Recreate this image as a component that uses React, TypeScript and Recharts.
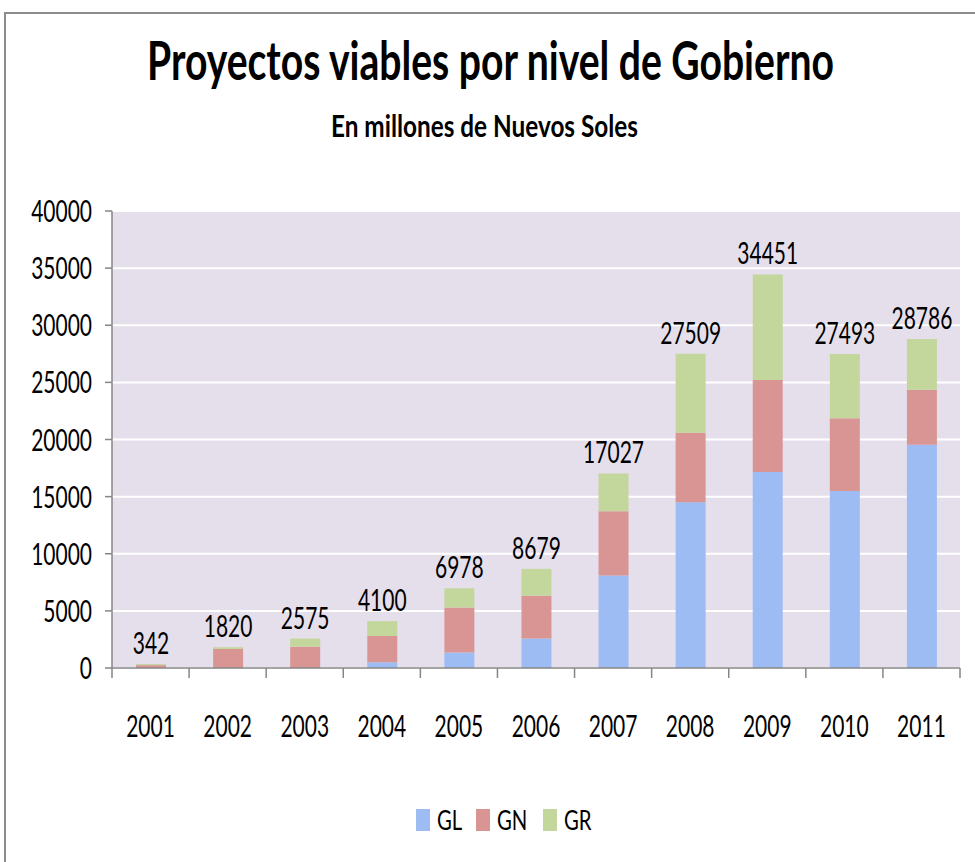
import React from "react"
import {
  BarChart,
  Bar,
  XAxis,
  YAxis,
  CartesianGrid,
  LabelList,
} from "recharts"

// data (millones de Nuevos Soles)
const years = ["2001", "2002", "2003", "2004", "2005", "2006", "2007", "2008", "2009", "2010", "2011"]
const totals = [342, 1820, 2575, 4100, 6978, 8679, 17027, 27509, 34451, 27493, 28786]
const glValues = [0, 0, 0, 500, 1350, 2580, 8090, 14500, 17150, 15500, 19550]
const gnValues = [250, 1670, 1870, 2300, 3950, 3750, 5620, 6100, 8050, 6350, 4800]
const yTicks = [0, 5000, 10000, 15000, 20000, 25000, 30000, 35000, 40000]

const seriesNames = ["GL", "GN", "GR"]
const seriesColors = ["#9dbcf4", "#d99594", "#c3d69b"]

const FONT = "Lato, 'Open Sans', sans-serif"
const SQUEEZE = 0.7 // the original text is a tall condensed face

const chartData = years.map((year, i) => ({
  year,
  GL: glValues[i],
  GN: gnValues[i],
  GR: totals[i] - glValues[i] - gnValues[i],
  total: totals[i],
}))

const NarrowText = ({ x, y, anchor = "middle", children }: any) => (
  <text
    transform={`translate(${x},${y}) scale(${SQUEEZE},1)`}
    textAnchor={anchor}
    fontFamily={FONT}
    fontSize={30}
    fill="#000"
  >
    {children}
  </text>
)

const XTick = (props: any) => {
  const { x, y, payload, index, visibleTicksCount } = props
  const half = payload?.offset || 38.5
  const axisY = y - 10
  const isLast = index === (visibleTicksCount ?? years.length) - 1
  return (
    <g>
      <line x1={x - half} x2={x - half} y1={axisY} y2={axisY + 10} stroke="#868686" strokeWidth={1.5} />
      {isLast && (
        <line x1={x + half} x2={x + half} y1={axisY} y2={axisY + 10} stroke="#868686" strokeWidth={1.5} />
      )}
      <NarrowText x={x} y={axisY + 69}>{payload.value}</NarrowText>
    </g>
  )
}

const YTick = (props: any) => {
  const { x, y, payload } = props
  return (
    <NarrowText x={x} y={y + 11} anchor="end">
      {payload.value}
    </NarrowText>
  )
}

const TotalLabel = (props: any) => {
  const { x, y, width, index } = props
  return (
    <NarrowText x={x + width / 2} y={y - 10}>
      {totals[index]}
    </NarrowText>
  )
}

export default function App() {
  return (
    <div style={{ position: "absolute", left: 0, top: 0, width: 975, height: 862, background: "#fff", overflow: "hidden" }}>
      <div
        style={{
          position: "absolute",
          left: 4,
          top: 12,
          width: 990,
          height: 880,
          borderTop: "2px solid #8c8c8c",
          borderLeft: "2px solid #8c8c8c",
        }}
      />
      <svg width={975} height={170} style={{ position: "absolute", left: 0, top: 0 }}>
        <text
          transform="translate(147,80) scale(1,1.33)"
          textLength={687}
          lengthAdjust="spacingAndGlyphs"
          fontFamily={FONT}
          fontWeight="bold"
          fontSize={40}
          fill="#000"
        >
          Proyectos viables por nivel de Gobierno
        </text>
        <text
          x={331}
          y={137}
          textLength={307}
          lengthAdjust="spacingAndGlyphs"
          fontFamily={FONT}
          fontWeight="bold"
          fontSize={30}
          fill="#000"
        >
          En millones de Nuevos Soles
        </text>
      </svg>
      <div style={{ position: "absolute", left: 0, top: 0 }}>
        <BarChart
          width={975}
          height={862}
          data={chartData}
          margin={{ top: 211, right: 15, left: 0, bottom: 134 }}
          barSize={30}
        >
          <CartesianGrid vertical={false} stroke="#ffffff" strokeWidth={2} fill="#e5dfec" />
          <XAxis
            dataKey="year"
            height={60}
            axisLine={{ stroke: "#868686", strokeWidth: 1.5 }}
            tickLine={false}
            tick={<XTick />}
            tickSize={0}
            tickMargin={10}
            interval={0}
          />
          <YAxis
            width={112}
            domain={[0, 40000]}
            ticks={yTicks}
            interval={0}
            axisLine={{ stroke: "#868686", strokeWidth: 1.5 }}
            tickLine={{ stroke: "#868686", strokeWidth: 1.5 }}
            tickSize={7}
            tickMargin={13}
            tick={<YTick />}
          />
          {seriesNames.map((name, i) => (
            <Bar
              key={name}
              dataKey={name}
              stackId="a"
              fill={seriesColors[i]}
              isAnimationActive={false}
            >
              {i === seriesNames.length - 1 && <LabelList dataKey="total" content={<TotalLabel />} />}
            </Bar>
          ))}
        </BarChart>
      </div>
      <div
        style={{
          position: "absolute",
          left: 416,
          top: 804,
          display: "flex",
          fontFamily: FONT,
          fontSize: 26,
        }}
      >
        {seriesNames.map((name, i) => (
          <div key={name} style={{ display: "flex", alignItems: "center", marginRight: 13 }}>
            <span style={{ display: "inline-block", width: 14, height: 22, background: seriesColors[i], marginRight: 7 }} />
            <span
              style={{
                display: "inline-block",
                transform: "scaleX(0.78)",
                transformOrigin: "left center",
                marginRight: -6,
              }}
            >
              {name}
            </span>
          </div>
        ))}
      </div>
    </div>
  )
}
